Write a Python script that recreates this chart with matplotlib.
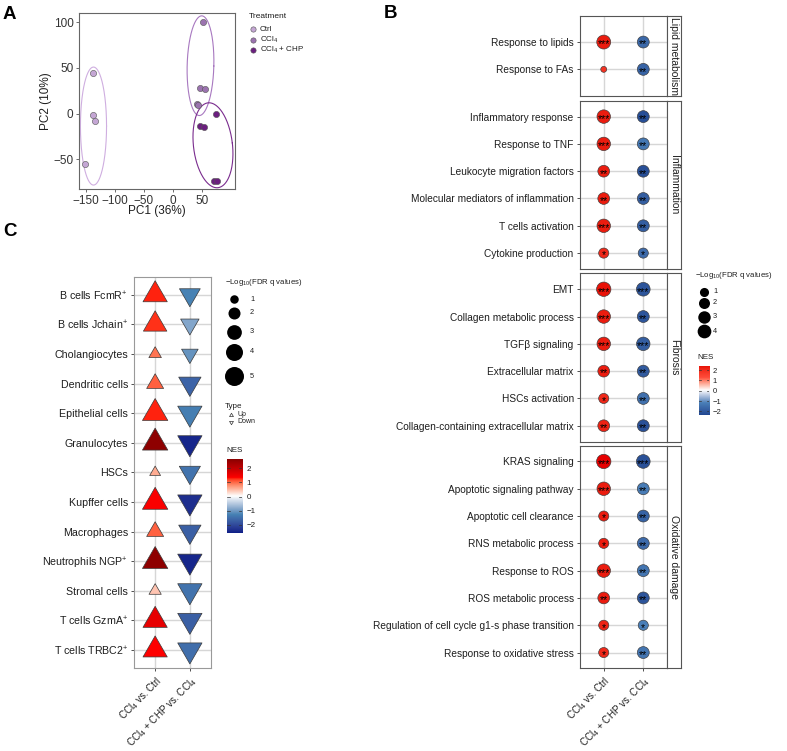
import numpy as np
import matplotlib
matplotlib.use('Agg')
import matplotlib.pyplot as plt
from matplotlib.path import Path
from matplotlib.colors import ListedColormap, to_rgb, Normalize
from matplotlib.transforms import ScaledTranslation

plt.rcParams['font.family'] = ['Liberation Sans', 'DejaVu Sans']
plt.rcParams['mathtext.fontset'] = 'custom'
plt.rcParams['mathtext.rm'] = 'Liberation Sans'
plt.rcParams['mathtext.it'] = 'Liberation Sans:italic'
plt.rcParams['mathtext.bf'] = 'Liberation Sans:bold'

# ---------------- Panel A data ----------------
treat_labels = ['Ctrl', 'CCl$_4$', 'CCl$_4$ + CHP']
pc1_ctrl = [-138, -138, -134, -151]
pc2_ctrl = [44, -1, -8, -55]
pc1_ccl4 = [51, 46, 55, 42, 43]
pc2_ccl4 = [100, 28, 27, 11, 9]
pc1_chp = [74, 46, 54, 71, 76]
pc2_chp = [0, -13, -15, -74, -74]
# ellipse: centre x, centre y, semi-axis x, semi-axis y (data units), tilt (deg)
ell_ctrl = [-137, -13.5, 22.5, 64.5, 0]
ell_ccl4 = [47.5, 52.5, 23, 54.5, -1.5]
ell_chp = [69, -34.5, 33.6, 46.7, 6.7]
treat_fill = ['#C4A6D4', '#9B73AF', '#6B1F7F']
treat_line = ['#CFAEE0', '#A878C0', '#7A2C8E']

# ---------------- Panel B data ----------------
facet_names = ['Lipid metabolism', 'Inflammation', 'Fibrosis', 'Oxidative damage']
terms_lipid = ['Response to lipids', 'Response to FAs']
terms_inflam = ['Inflammatory response', 'Response to TNF', 'Leukocyte migration factors',
                'Molecular mediators of inflammation', 'T cells activation', 'Cytokine production']
terms_fibro = ['EMT', 'Collagen metabolic process', 'TGFβ signaling', 'Extracellular matrix',
               'HSCs activation', 'Collagen-containing extracellular matrix']
terms_oxid = ['KRAS signaling', 'Apoptotic signaling pathway', 'Apoptotic cell clearance',
              'RNS metabolic process', 'Response to ROS', 'ROS metabolic process',
              'Regulation of cell cycle g1-s phase transition', 'Response to oxidative stress']
# NES and -log10(FDR q) for CCl4 vs Ctrl (1) and CCl4+CHP vs CCl4 (2)
nes1_lipid = [2.2, 1.8]
nes2_lipid = [-1.7, -1.8]
lq1_lipid = [4.2, 0.1]
lq2_lipid = [2.6, 2.6]
nes1_inflam = [2.2, 2.2, 2.2, 2.2, 2.2, 2.0]
nes2_inflam = [-2.25, -1.4, -2.25, -1.9, -1.9, -1.65]
lq1_inflam = [3.8, 3.8, 2.5, 2.5, 3.8, 1.5]
lq2_inflam = [2.6, 2.6, 2.6, 2.6, 2.6, 1.5]
nes1_fibro = [2.3, 2.2, 2.2, 2.2, 2.0, 2.1]
nes2_fibro = [-2.1, -2.1, -1.9, -2.0, -1.55, -2.2]
lq1_fibro = [4.6, 3.8, 3.8, 2.5, 1.5, 2.5]
lq2_fibro = [4.0, 2.6, 3.8, 2.6, 2.6, 2.6]
nes1_oxid = [2.45, 2.2, 2.2, 2.2, 2.2, 2.2, 2.1, 2.0]
nes2_oxid = [-2.2, -1.3, -1.8, -1.65, -1.45, -2.1, -1.25, -1.45]
lq1_oxid = [4.6, 3.8, 1.5, 1.5, 3.8, 2.5, 1.5, 1.5]
lq2_oxid = [4.0, 2.6, 2.6, 2.6, 2.6, 2.6, 1.5, 2.6]
comparisons = ['CCl$_4$ vs. Ctrl', 'CCl$_4$ + CHP vs. CCl$_4$']

# ---------------- Panel C data ----------------
cell_types = ['B cells FcmR$^{+}$', 'B cells Jchain$^{+}$', 'Cholangiocytes', 'Dendritic cells',
              'Epithelial cells', 'Granulocytes', 'HSCs', 'Kupffer cells', 'Macrophages',
              'Neutrophils NGP$^{+}$', 'Stromal cells', 'T cells GzmA$^{+}$', 'T cells TRBC2$^{+}$']
nes_up = [1.3, 1.25, 0.95, 1.05, 1.3, 2.6, 0.6, 1.4, 1.05, 2.6, 0.45, 1.6, 1.35]
nes_down = [-1.25, -0.85, -1.05, -1.65, -1.3, -2.45, -1.45, -2.35, -1.7, -2.45, -1.45, -1.7, -1.5]
lq_up = [4.5, 4.2, 1.2, 2.2, 4.9, 4.9, 0.9, 4.9, 2.2, 4.9, 1.15, 4.5, 4.5]
lq_down = [3.3, 2.6, 2.1, 3.8, 4.5, 4.5, 3.4, 4.5, 3.8, 4.5, 4.5, 4.5, 4.5]

# ---------------- helpers ----------------
W, H = 787, 751
fig = plt.figure(figsize=(W / 100, H / 100), dpi=100)
PT = 0.72  # points per pixel


def px_axes(x0, y0, x1, y1):
    return fig.add_axes([x0 / W, 1 - y1 / H, (x1 - x0) / W, (y1 - y0) / H])


M_xyz = np.array([[0.4124564, 0.3575761, 0.1804375],
                  [0.2126729, 0.7151522, 0.0721750],
                  [0.0193339, 0.1191920, 0.9503041]])
WHITE = np.array([0.95047, 1.0, 1.08883])


def to_lab(c):
    rgb = np.array(to_rgb(c))
    lin = np.where(rgb <= 0.04045, rgb / 12.92, ((rgb + 0.055) / 1.055) ** 2.4)
    t = (M_xyz @ lin) / WHITE
    f = np.where(t > (6 / 29) ** 3, np.cbrt(t), t / (3 * (6 / 29) ** 2) + 4 / 29)
    return np.array([116 * f[1] - 16, 500 * (f[0] - f[1]), 200 * (f[1] - f[2])])


def from_lab(lab):
    L, a, b = lab
    fy = (L + 16) / 116
    fs = np.array([fy + a / 500, fy, fy - b / 200])
    xyz = np.where(fs > 6 / 29, fs ** 3, 3 * (6 / 29) ** 2 * (fs - 4 / 29)) * WHITE
    lin = np.clip(np.linalg.solve(M_xyz, xyz), 0, 1)
    return np.clip(np.where(lin <= 0.0031308, 12.92 * lin, 1.055 * lin ** (1 / 2.4) - 0.055), 0, 1)


def lab_cmap(colors, pos=None, n=256):
    labs = [to_lab(c) for c in colors]
    pos = np.linspace(0, 1, len(colors)) if pos is None else np.array(pos)
    out = []
    for t in np.linspace(0, 1, n):
        i = min(max(np.searchsorted(pos, t, side='right') - 1, 0), len(colors) - 2)
        f = (t - pos[i]) / (pos[i + 1] - pos[i])
        out.append(from_lab(labs[i] * (1 - f) + labs[i + 1] * f))
    return ListedColormap(out)


TXT = '#1E1E1E'

# ================= Panel A =================
axA = px_axes(79, 13, 235, 189)
axA.set_xlim(-162, 107)
axA.set_ylim(-82.3, 110.1)
sx = (235 - 79) / (107 + 162)
sy = (189 - 13) / (110.1 + 82.3)
t = np.linspace(0, 2 * np.pi, 300)
for ell, lc in zip([ell_ctrl, ell_ccl4, ell_chp], treat_line):
    cx, cy, rx, ry, ang = ell
    u = rx * sx * np.cos(t)
    v = ry * sy * np.sin(t)
    a = np.deg2rad(ang)
    uu = u * np.cos(a) - v * np.sin(a)
    vv = u * np.sin(a) + v * np.cos(a)
    axA.plot(cx + uu / sx, cy + vv / sy, color=lc, lw=0.8, zorder=2)
for xs, ys, fc in zip([pc1_ctrl, pc1_ccl4, pc1_chp], [pc2_ctrl, pc2_ccl4, pc2_chp], treat_fill):
    axA.scatter(xs, ys, s=(6.2 * PT) ** 2, c=fc, edgecolors='#555555', linewidths=0.4, zorder=3)
axA.set_xticks([-150, -100, -50, 0, 50])
axA.set_yticks([-50, 0, 50, 100])
axA.tick_params(labelsize=8.5, colors='#555555', labelcolor='#333333', length=2.5, width=0.6, pad=1.5)
for sp in axA.spines.values():
    sp.set_color('#666666')
    sp.set_linewidth(0.8)
axA.set_xlabel('PC1 (36%)', fontsize=8.5, color=TXT, labelpad=-1)
axA.set_ylabel('PC2 (10%)', fontsize=8.5, color=TXT, labelpad=1)

# legend A
fig.text(249 / W, 1 - 16.5 / H, 'Treatment', fontsize=6, color=TXT, va='center', ha='left')
for i, (lab, fc) in enumerate([*zip(treat_labels, treat_fill)]):
    yy = 29.3 + 10.3 * i
    fig.lines.append(plt.Line2D([252.7 / W], [1 - yy / H], marker='o', ms=5.3 * PT, mfc=fc,
                                mec='#555555', mew=0.4, transform=fig.transFigure))
    fig.text(260 / W, 1 - yy / H, lab, fontsize=5.8, color=TXT, va='center', ha='left')

# ================= Panel B =================
cmapB = lab_cmap(['#1F4590', '#4A80B8', 'white', '#FF4A3A', '#E60000'])
normB = Normalize(-2.45, 2.45)


def diam_B(v):
    return 4.5 + 4.6 * np.sqrt(np.asarray(v, float))


def stars(v):
    return '***' if v >= 3 else ('**' if v >= 2 else ('*' if v >= 1.3 else ''))


facet_terms = [terms_lipid, terms_inflam, terms_fibro, terms_oxid]
facet_nes1 = [nes1_lipid, nes1_inflam, nes1_fibro, nes1_oxid]
facet_nes2 = [nes2_lipid, nes2_inflam, nes2_fibro, nes2_oxid]
facet_lq1 = [lq1_lipid, lq1_inflam, lq1_fibro, lq1_oxid]
facet_lq2 = [lq2_lipid, lq2_inflam, lq2_fibro, lq2_oxid]
facet_box = [(15.7, 95.7), (100.7, 269), (273, 442), (446, 668)]
ROW = 27.3
BORDER_B = '#555555'
STAR_FS = 7.5
for k in range(4):
    y0, y1 = facet_box[k]
    terms = facet_terms[k]
    n = len(terms)
    ax = px_axes(580, y0, 667, y1)
    units = (y1 - y0) / ROW
    pad = (units - (n - 1)) / 2
    ax.set_ylim(n - 1 + pad, -pad)
    ax.set_xlim(-0.6, 1.6)
    for i in range(n):
        ax.axhline(i, color='#D6D6D6', lw=1.0, zorder=0)
    for j in range(2):
        ax.axvline(j, color='#D6D6D6', lw=1.0, zorder=0)
    rows = np.arange(n)
    off = ax.transData + ScaledTranslation(0, -0.52 * STAR_FS / 72, fig.dpi_scale_trans)
    for j, (nes, lq) in enumerate([(facet_nes1[k], facet_lq1[k]), (facet_nes2[k], facet_lq2[k])]):
        ax.scatter(np.full(n, j), rows, s=(diam_B(lq) * PT) ** 2, c=cmapB(normB(nes)),
                   edgecolors='#3A3A3A', linewidths=0.45, zorder=3)
        for i in range(n):
            ax.text(j, i, stars(lq[i]), fontsize=STAR_FS, ha='center', va='baseline',
                    color='black', transform=off, zorder=4)
    ax.set_yticks(rows)
    ax.set_yticklabels(terms, fontsize=7.3, color=TXT)
    ax.tick_params(axis='y', length=2.5, width=0.6, color='#333333', pad=2)
    if k == 3:
        ax.set_xticks([0, 1])
        ax.set_xticklabels(comparisons, fontsize=7.1, color=TXT, rotation=45,
                           ha='right', va='top', rotation_mode='anchor')
        ax.tick_params(axis='x', length=2.5, width=0.6, color='#333333', pad=2)
    else:
        ax.set_xticks([])
    for sp in ax.spines.values():
        sp.set_color(BORDER_B)
        sp.set_linewidth(0.8)
    st = px_axes(667, y0, 681, y1)
    st.set_xticks([])
    st.set_yticks([])
    for sp in st.spines.values():
        sp.set_color(BORDER_B)
        sp.set_linewidth(0.8)
    st.text(0.5, 0.5, facet_names[k], rotation=-90, fontsize=7.5, color=TXT,
            ha='center', va='center', transform=st.transAxes)

# legend B
fig.text(695 / W, 1 - 276 / H, '\u2212Log$_{10}$(FDR q values)', fontsize=5.6, color=TXT,
         va='center', ha='left')
for i, v in enumerate([1, 2, 3, 4]):
    yy = [291.5, 303, 316.7, 331.5][i]
    fig.lines.append(plt.Line2D([704 / W], [1 - yy / H], marker='o', ms=diam_B(v) * PT,
                                mfc='black', mec='black', mew=0, transform=fig.transFigure))
    fig.text(713 / W, 1 - yy / H, str(v), fontsize=5.3, color=TXT, va='center', ha='left')
fig.text(697 / W, 1 - 358 / H, 'NES', fontsize=5.8, color=TXT, va='center', ha='left')
cbB_lo, cbB_hi = -2.4, 2.4
axcb = px_axes(698.5, 366, 708.5, 366 + 10.3 * (cbB_hi - cbB_lo))
grad = np.linspace(cbB_lo, cbB_hi, 200).reshape(-1, 1)
axcb.imshow(grad, aspect='auto', origin='lower', cmap=cmapB, norm=normB,
            extent=(0, 1, cbB_lo, cbB_hi))
axcb.set_xlim(0, 1)
axcb.set_ylim(cbB_lo, cbB_hi)
axcb.set_xticks([])
axcb.yaxis.tick_right()
axcb.set_yticks([-2, -1, 0, 1, 2])
axcb.tick_params(axis='y', length=0, labelsize=5.5, labelcolor=TXT, pad=3)
for tv in [-2, -1, 0, 1, 2]:
    axcb.plot([0, 0.2], [tv, tv], color='#333333', lw=0.5)
    axcb.plot([0.8, 1], [tv, tv], color='#333333', lw=0.5)
for sp in axcb.spines.values():
    sp.set_visible(False)

# ================= Panel C =================
cnes_lo, cnes_hi = -2.55, 2.65
cmapC = lab_cmap(['#0E2088', '#4682B4', 'white', '#FF0000', '#8B0000'])
normC = Normalize(cnes_lo, cnes_hi)
tri_up = Path([(0, 1.1547), (-1, -0.5774), (1, -0.5774), (0, 1.1547)],
              [Path.MOVETO, Path.LINETO, Path.LINETO, Path.CLOSEPOLY])
tri_dn = Path([(0, -1.1547), (-1, 0.5774), (1, 0.5774), (0, -1.1547)],
              [Path.MOVETO, Path.LINETO, Path.LINETO, Path.CLOSEPOLY])


def circ_C(v):
    return 8.5 * np.sqrt(np.asarray(v, float))


def tri_size(v):
    w = 1.347 * circ_C(v)
    return (w * PT / 0.866) ** 2


axC = px_axes(134.3, 277, 210.7, 667.7)
nC = len(cell_types)
axC.set_ylim(nC - 1 + 0.6, -0.6)
axC.set_xlim(-0.6, 1.6)
for i in range(nC):
    axC.axhline(i, color='#D6D6D6', lw=1.0, zorder=0)
for j in range(2):
    axC.axvline(j, color='#D6D6D6', lw=1.0, zorder=0)
rowsC = np.arange(nC)
axC.scatter(np.zeros(nC), rowsC, s=tri_size(lq_up), c=cmapC(normC(nes_up)), marker=tri_up,
            edgecolors='#3A3A3A', linewidths=0.5, zorder=3)
axC.scatter(np.ones(nC), rowsC, s=tri_size(lq_down), c=cmapC(normC(nes_down)), marker=tri_dn,
            edgecolors='#3A3A3A', linewidths=0.5, zorder=3)
axC.set_yticks(rowsC)
axC.set_yticklabels(cell_types, fontsize=7.7, color=TXT)
axC.set_xticks([0, 1])
axC.set_xticklabels(comparisons, fontsize=7.1, color=TXT, rotation=45, ha='right', va='top',
                    rotation_mode='anchor')
axC.tick_params(length=2.5, width=0.6, color='#333333', pad=2)
axC.tick_params(axis='x', pad=2.3)
for sp in axC.spines.values():
    sp.set_color('#999999')
    sp.set_linewidth(0.8)

# legend C
fig.text(225 / W, 1 - 283 / H, '\u2212Log$_{10}$(FDR q values)', fontsize=5.6, color=TXT,
         va='center', ha='left')
for i, v in enumerate([1, 2, 3, 4, 5]):
    yy = [299, 312.7, 331.7, 351.7, 376][i]
    fig.lines.append(plt.Line2D([234.3 / W], [1 - yy / H], marker='o', ms=circ_C(v) * PT,
                                mfc='black', mec='black', mew=0, transform=fig.transFigure))
    fig.text(250 / W, 1 - yy / H, str(v), fontsize=5.3, color=TXT, va='center', ha='left')
fig.text(225 / W, 1 - 406.7 / H, 'Type', fontsize=5.8, color=TXT, va='center', ha='left')
for i, (lab, mk) in enumerate([('Up', tri_up), ('Down', tri_dn)]):
    yy = 415 + 6.5 * i
    fig.lines.append(plt.Line2D([230.7 / W], [1 - yy / H], marker=mk, ms=4.5 * PT, mfc='none',
                                mec='#333333', mew=0.5, transform=fig.transFigure))
    fig.text(237 / W, 1 - yy / H, lab, fontsize=5, color=TXT, va='center', ha='left')
fig.text(226.7 / W, 1 - 451 / H, 'NES', fontsize=5.8, color=TXT, va='center', ha='left')
axcc = px_axes(227.3, 459, 242.3, 532.7)
gradC = np.linspace(cnes_lo, cnes_hi, 200).reshape(-1, 1)
axcc.imshow(gradC, aspect='auto', origin='lower', cmap=cmapC, norm=normC,
            extent=(0, 1, cnes_lo, cnes_hi))
axcc.set_xlim(0, 1)
axcc.set_ylim(cnes_lo, cnes_hi)
axcc.set_xticks([])
axcc.yaxis.tick_right()
axcc.set_yticks([-2, -1, 0, 1, 2])
axcc.tick_params(axis='y', length=0, labelsize=5.8, labelcolor=TXT, pad=3)
for tv in [-2, -1, 0, 1, 2]:
    axcc.plot([0, 0.2], [tv, tv], color='#333333', lw=0.5)
    axcc.plot([0.8, 1], [tv, tv], color='#333333', lw=0.5)
for sp in axcc.spines.values():
    sp.set_visible(False)

# panel letters
fig.text(3 / W, 1 - 6 / H, 'A', fontsize=13.5, fontweight='bold', va='top', ha='left')
fig.text(384 / W, 1 - 5 / H, 'B', fontsize=13.5, fontweight='bold', va='top', ha='left')
fig.text(3 / W, 1 - 223 / H, 'C', fontsize=13.5, fontweight='bold', va='top', ha='left')

fig.savefig('out.png', dpi=100)
